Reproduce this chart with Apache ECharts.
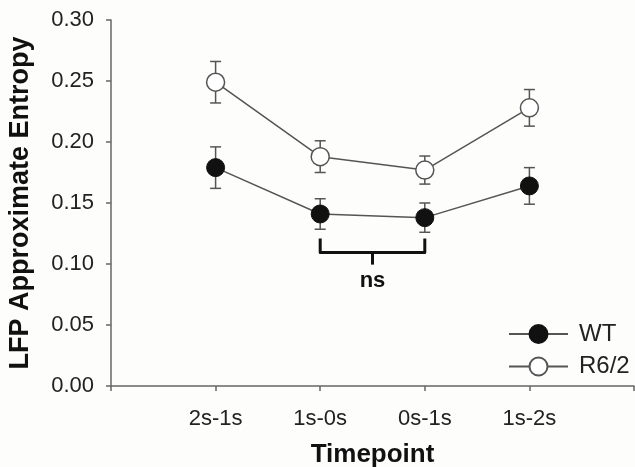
<!DOCTYPE html>
<html>
<head>
<meta charset="utf-8">
<script src="https://cdn.jsdelivr.net/npm/echarts@6/dist/echarts.min.js"></script>
<style>
html,body{margin:0;padding:0;background:#fdfdfb;}
#chart{width:635px;height:467px;}
</style>
</head>
<body>
<div id="chart"></div>
<script>
// ---- data ----
const categories = ['2s-1s', '1s-0s', '0s-1s', '1s-2s'];
const wtMean = [0.179, 0.141, 0.138, 0.164];
const wtErr = [0.017, 0.0125, 0.012, 0.015];
const r62Mean = [0.249, 0.188, 0.177, 0.228];
const r62Err = [0.017, 0.013, 0.0115, 0.015];
const yTicks = [0.00, 0.05, 0.10, 0.15, 0.20, 0.25, 0.30];
const bracketCats = ['1s-0s', '0s-1s'];
const bracketY = [0.121, 0.1095, 0.0995]; // top of ends, bar, bottom of middle tick
const bracketLabel = 'ns';
const bracketLabelY = 0.086;

const FONT = 'Liberation Sans, Arial, sans-serif';
const pts = (m) => m.map((v, i) => [i + 1, v]);
const errData = (m, e) => m.map((v, i) => [i + 1, v - e[i], v + e[i]]);

function errRender(params, api) {
  const x = api.value(0);
  const lo = api.coord([x, api.value(1)]);
  const hi = api.coord([x, api.value(2)]);
  const w = 5.5;
  const st = { stroke: '#555', lineWidth: 1.5 };
  return { type: 'group', children: [
    { type: 'line', shape: { x1: lo[0], y1: lo[1], x2: hi[0], y2: hi[1] }, style: st },
    { type: 'line', shape: { x1: lo[0] - w, y1: lo[1], x2: lo[0] + w, y2: lo[1] }, style: st },
    { type: 'line', shape: { x1: hi[0] - w, y1: hi[1], x2: hi[0] + w, y2: hi[1] }, style: st }
  ]};
}

function bracketRender(params, api) {
  const x1 = api.value(0), x2 = api.value(1);
  const a = api.coord([x1, bracketY[0]]);
  const b = api.coord([x1, bracketY[1]]);
  const c = api.coord([x2, bracketY[1]]);
  const d = api.coord([x2, bracketY[0]]);
  const mx = (b[0] + c[0]) / 2;
  const my = api.coord([(x1 + x2) / 2, bracketY[2]])[1];
  const ly = api.coord([(x1 + x2) / 2, bracketLabelY])[1];
  const st = { stroke: '#111', lineWidth: 3, fill: null, lineJoin: 'round' };
  return { type: 'group', children: [
    { type: 'polyline', shape: { points: [a, b, c, d] }, style: st },
    { type: 'line', shape: { x1: mx, y1: b[1], x2: mx, y2: my }, style: st },
    { type: 'text', x: mx, y: ly, style: { text: bracketLabel, fill: '#111',
      fontFamily: FONT, fontWeight: 'bold', fontSize: 22, align: 'center', verticalAlign: 'middle' } }
  ]};
}

const chart = echarts.init(document.getElementById('chart'));
chart.setOption({
  backgroundColor: '#fdfdfb',
  animation: false,
  grid: { left: 111, right: 1, top: 20, bottom: 81, outerBoundsMode: 'none', containLabel: false },
  xAxis: {
    type: 'value', min: 0, max: 5, interval: 1,
    name: 'Timepoint', nameLocation: 'middle', nameGap: 56,
    nameTextStyle: { fontFamily: FONT, fontWeight: 'bold', fontSize: 26, color: '#111' },
    axisLine: { lineStyle: { color: '#666', width: 1.5 } },
    axisTick: { show: true, length: 5, lineStyle: { color: '#666', width: 1.5 } },
    splitLine: { show: false },
    axisLabel: {
      margin: 22, fontFamily: FONT, fontSize: 22, color: '#222',
      formatter: (v) => categories[v - 1] || ''
    }
  },
  yAxis: {
    type: 'value', min: yTicks[0], max: yTicks[yTicks.length - 1], interval: 0.05,
    name: 'LFP Approximate Entropy', nameLocation: 'middle', nameGap: 77,
    nameTextStyle: { fontFamily: FONT, fontWeight: 'bold', fontSize: 27, color: '#111' },
    axisLine: { show: true, lineStyle: { color: '#666', width: 1.5 } },
    axisTick: { show: true, length: 5, lineStyle: { color: '#666', width: 1.5 } },
    splitLine: { show: false },
    axisLabel: { margin: 17, fontFamily: FONT, fontSize: 22, color: '#222',
      formatter: (v) => v.toFixed(2) }
  },
  legend: {
    orient: 'vertical', left: 503, top: 317,
    itemWidth: 59, itemHeight: 22.5, itemGap: 8.5,
    textStyle: { fontFamily: FONT, fontSize: 24, color: '#222', padding: [0, 0, 0, 6] },
    data: ['WT', 'R6/2']
  },
  series: [
    { name: 'WT-err', type: 'custom', renderItem: errRender, data: errData(wtMean, wtErr), z: 1, silent: true },
    { name: 'R6/2-err', type: 'custom', renderItem: errRender, data: errData(r62Mean, r62Err), z: 1, silent: true },
    { name: 'WT', type: 'line', data: pts(wtMean), symbol: 'circle', symbolSize: 18, z: 3,
      lineStyle: { color: '#555', width: 1.5 },
      itemStyle: { color: '#111', borderColor: '#111', borderWidth: 1 } },
    { name: 'R6/2', type: 'line', data: pts(r62Mean), symbol: 'circle', symbolSize: 18, z: 3,
      lineStyle: { color: '#555', width: 1.5 },
      itemStyle: { color: '#fff', borderColor: '#555', borderWidth: 1.5 } },
    { name: 'bracket', type: 'custom', renderItem: bracketRender, z: 4, silent: true,
      data: [[categories.indexOf(bracketCats[0]) + 1, categories.indexOf(bracketCats[1]) + 1]] }
  ]
});
</script>
</body>
</html>
